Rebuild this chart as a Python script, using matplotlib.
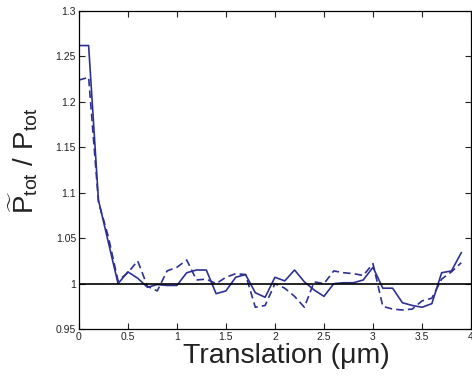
import matplotlib
matplotlib.use("Agg")
import matplotlib.pyplot as plt

plt.rcParams['font.family'] = ['Liberation Sans', 'DejaVu Sans']
plt.rcParams['mathtext.fontset'] = 'custom'
plt.rcParams['mathtext.rm'] = 'Liberation Sans'
plt.rcParams['mathtext.it'] = 'Liberation Sans:italic'

# translation positions (um)
shift = [0.0, 0.1, 0.2, 0.3, 0.4, 0.5, 0.6, 0.7, 0.8, 0.9,
         1.0, 1.1, 1.2, 1.3, 1.4, 1.5, 1.6, 1.7, 1.8, 1.9,
         2.0, 2.1, 2.2, 2.3, 2.4, 2.5, 2.6, 2.7, 2.8, 2.9,
         3.0, 3.1, 3.2, 3.3, 3.4, 3.5, 3.6, 3.7, 3.8, 3.9]

ratio_solid = [1.262, 1.262, 1.092, 1.046, 1.000, 1.013, 1.006, 0.996, 0.999, 0.998,
               0.998, 1.012, 1.015, 1.015, 0.989, 0.992, 1.007, 1.010, 0.990, 0.985,
               1.007, 1.003, 1.015, 1.002, 0.993, 0.986, 1.000, 1.001, 1.001, 1.004,
               1.018, 0.995, 0.995, 0.979, 0.976, 0.974, 0.978, 1.012, 1.014, 1.034]

ratio_dashed = [1.224, 1.227, 1.090, 1.052, 1.003, 1.012, 1.025, 0.997, 0.992, 1.014,
                1.018, 1.026, 1.004, 1.005, 1.000, 1.007, 1.011, 1.010, 0.974, 0.976,
                1.000, 0.995, 0.986, 0.974, 1.002, 1.000, 1.014, 1.012, 1.011, 1.009,
                1.022, 0.975, 0.972, 0.971, 0.972, 0.981, 0.984, 1.005, 1.013, 1.023]

blue = '#2E3192'

fig = plt.figure(figsize=(4.72, 3.8), dpi=100)
ax = fig.add_axes([0.167, 0.134, 0.831, 0.837])

ax.plot(shift, ratio_solid, color=blue, lw=1.2)
ax.plot(shift, ratio_dashed, color=blue, lw=1.2, ls=(0, (4.5, 2.5)))
ax.axhline(1.0, color='black', lw=1.2)

ax.set_xlim(0, 4)
ax.set_ylim(0.95, 1.3)
ax.set_xticks([0, 0.5, 1, 1.5, 2, 2.5, 3, 3.5, 4])
ax.set_xticklabels(['0', '0.5', '1', '1.5', '2', '2.5', '3', '3.5', '4'])
ax.set_yticks([0.95, 1, 1.05, 1.1, 1.15, 1.2, 1.25, 1.3])
ax.set_yticklabels(['0.95', '1', '1.05', '1.1', '1.15', '1.2', '1.25', '1.3'])
ax.tick_params(direction='in', top=True, right=True, labelsize=7.5,
               length=4, width=0.8, pad=2, colors='#222222')
for s in ax.spines.values():
    s.set_linewidth(0.9)

ax.set_xlabel('Translation (μm)', fontsize=20.5, labelpad=0, color='#222222')
ax.xaxis.set_label_coords(0.528, -0.045, transform=ax.transAxes)
ax.xaxis.label.set_va('top')
ax.set_ylabel(r'$\widetilde{\mathrm{P}}_{\mathrm{tot}}$ / P$_{\mathrm{tot}}$',
              fontsize=20, labelpad=2, color='#222222')
ax.yaxis.set_label_coords(-0.1, 0.53)

fig.savefig('out.png', dpi=100)
